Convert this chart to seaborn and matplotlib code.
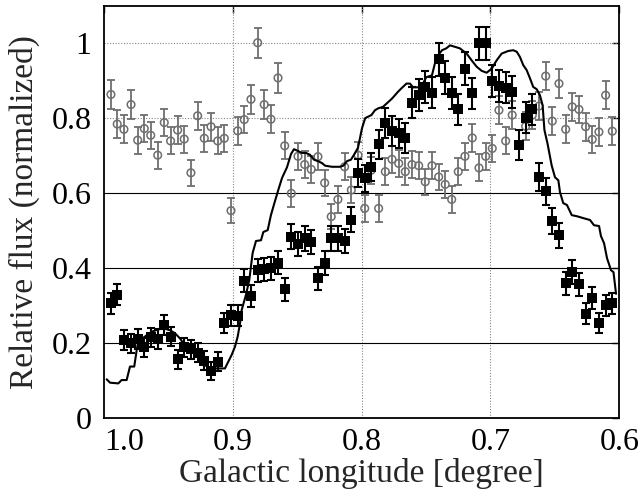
import matplotlib
matplotlib.use("Agg")
import matplotlib.pyplot as plt
import numpy as np
import pandas as pd
import seaborn as sns

# galactic longitude of each data bin (deg)
lon = [0.9946, 0.9897, 0.9845, 0.9790, 0.9738, 0.9687, 0.9637, 0.9583, 0.9532, 0.9483,
       0.9428, 0.9377, 0.9325, 0.9273, 0.9221, 0.9169, 0.9117, 0.9066, 0.9014, 0.8962,
       0.8911, 0.8859, 0.8807, 0.8756, 0.8704, 0.8649, 0.8597, 0.8546, 0.8494, 0.8442,
       0.8391, 0.8339, 0.8287, 0.8236, 0.8184, 0.8132, 0.8080, 0.8028, 0.7976, 0.7925,
       0.7868, 0.7816, 0.7764, 0.7712, 0.7661, 0.7609, 0.7557, 0.7506, 0.7454, 0.7402,
       0.7351, 0.7301, 0.7250, 0.7198, 0.7141, 0.7089, 0.7037, 0.6986, 0.6934, 0.6882,
       0.6831, 0.6779, 0.6727, 0.6675, 0.6623, 0.6571, 0.6520, 0.6468, 0.6416, 0.6365,
       0.6313, 0.6261, 0.6210, 0.6158, 0.6106, 0.6054]

# filled squares
sq_flux = [0.307, 0.329, 0.209, 0.200, 0.211, 0.189, 0.216, 0.211, 0.249, 0.218,
           0.157, 0.189, 0.184, 0.175, 0.154, 0.127, 0.151, 0.255, 0.275, 0.273,
           0.367, 0.326, 0.395, 0.397, 0.400, 0.415, 0.344, 0.485, 0.465, 0.480,
           0.470, 0.373, 0.413, 0.480, 0.480, 0.473, 0.530, 0.654, 0.640, 0.671,
           0.731, 0.788, 0.767, 0.760, 0.748, 0.842, 0.862, 0.884, 0.869, 0.958,
           0.909, 0.868, 0.824, 0.933, 0.867, 1.000, 1.000, 0.900, 0.886, 0.882,
           0.871, 0.729, 0.802, 0.824, 0.644, 0.606, 0.527, 0.488, 0.360, 0.390,
           0.357, 0.279, 0.320, 0.255, 0.302, 0.307]
sq_err = [0.028, 0.028, 0.026, 0.026, 0.026, 0.026, 0.026, 0.026, 0.027, 0.026,
          0.025, 0.026, 0.026, 0.025, 0.025, 0.024, 0.025, 0.027, 0.028, 0.028,
          0.030, 0.029, 0.031, 0.031, 0.031, 0.031, 0.030, 0.033, 0.032, 0.033,
          0.033, 0.031, 0.032, 0.033, 0.033, 0.033, 0.034, 0.037, 0.036, 0.037,
          0.039, 0.040, 0.040, 0.039, 0.039, 0.041, 0.042, 0.042, 0.042, 0.044,
          0.043, 0.042, 0.041, 0.043, 0.042, 0.045, 0.045, 0.043, 0.042, 0.042,
          0.042, 0.039, 0.041, 0.041, 0.037, 0.036, 0.034, 0.033, 0.030, 0.031,
          0.030, 0.028, 0.029, 0.027, 0.028, 0.028]

# open circles
ci_flux = [0.864, 0.785, 0.771, 0.837, 0.742, 0.773, 0.755, 0.702, 0.789, 0.740,
           0.769, 0.745, 0.655, 0.807, 0.747, 0.778, 0.740, 0.747, 0.554, 0.767,
           0.797, 0.851, 1.002, 0.837, 0.798, 0.908, 0.727, 0.600, 0.699, 0.677,
           0.664, 0.698, 0.628, 0.538, 0.584, 0.671, 0.609, 0.702, 0.560, 0.662,
           0.560, 0.658, 0.691, 0.680, 0.658, 0.677, 0.674, 0.631, 0.674, 0.644,
           0.624, 0.584, 0.658, 0.699, 0.748, 0.668, 0.699, 0.720, 0.822, 0.740,
           0.809, np.nan, 0.779, 0.809, 0.833, 0.913, 0.793, 0.893, 0.771, 0.831,
           0.824, 0.778, 0.744, 0.764, 0.862, 0.766]
ci_err = [0.038, 0.037, 0.037, 0.038, 0.036, 0.037, 0.036, 0.036, 0.037, 0.036,
          0.037, 0.036, 0.035, 0.037, 0.036, 0.037, 0.036, 0.036, 0.034, 0.037,
          0.037, 0.038, 0.040, 0.038, 0.037, 0.039, 0.036, 0.035, 0.036, 0.036,
          0.036, 0.036, 0.035, 0.034, 0.035, 0.036, 0.035, 0.036, 0.035, 0.036,
          0.035, 0.036, 0.036, 0.036, 0.036, 0.036, 0.036, 0.035, 0.036, 0.035,
          0.035, 0.035, 0.036, 0.036, 0.037, 0.036, 0.036, 0.036, 0.037, 0.036,
          0.037, np.nan, 0.037, 0.037, 0.037, 0.038, 0.037, 0.038, 0.037, 0.037,
          0.037, 0.037, 0.036, 0.037, 0.038, 0.037]

# solid profile
prof_lon = [0.9979, 0.9953, 0.9889, 0.9863, 0.9824, 0.9798, 0.9765, 0.9746, 0.9734, 0.9682,
            0.9630, 0.9578, 0.9540, 0.9488, 0.9449, 0.9410, 0.9384, 0.9346, 0.9294, 0.9255,
            0.9216, 0.9177, 0.9061, 0.9035, 0.9009, 0.8983, 0.8962, 0.8944, 0.8931, 0.8898,
            0.8872, 0.8846, 0.8820, 0.8781, 0.8763, 0.8729, 0.8704, 0.8678, 0.8647, 0.8618,
            0.8579, 0.8548, 0.8525, 0.8494, 0.8463, 0.8432, 0.8401, 0.8370, 0.8339, 0.8308,
            0.8284, 0.8230, 0.8168, 0.8142, 0.8114, 0.8083, 0.8059, 0.8028, 0.7997, 0.7972,
            0.7924, 0.7896, 0.7871, 0.7834, 0.7764, 0.7741, 0.7718, 0.7692, 0.7652, 0.7625,
            0.7601, 0.7555, 0.7524, 0.7498, 0.7454, 0.7431, 0.7405, 0.7376, 0.7343, 0.7314,
            0.7275, 0.7237, 0.7185, 0.7146, 0.7107, 0.7068, 0.7029, 0.6990, 0.6952, 0.6913,
            0.6862, 0.6823, 0.6796, 0.6771, 0.6745, 0.6719, 0.6693, 0.6668, 0.6641, 0.6616,
            0.6595, 0.6581, 0.6557, 0.6525, 0.6499, 0.6473, 0.6460, 0.6435, 0.6406, 0.6369,
            0.6328, 0.6279, 0.6227, 0.6196, 0.6157, 0.6142, 0.6118, 0.6095, 0.6064, 0.6045,
            0.6025]
prof_flux = [0.104, 0.095, 0.093, 0.102, 0.102, 0.138, 0.138, 0.182, 0.204, 0.218,
             0.231, 0.237, 0.240, 0.235, 0.227, 0.213, 0.200, 0.191, 0.173, 0.160,
             0.142, 0.133, 0.133, 0.151, 0.169, 0.191, 0.218, 0.253, 0.289, 0.329,
             0.369, 0.441, 0.473, 0.475, 0.497, 0.502, 0.542, 0.573, 0.609, 0.641,
             0.670, 0.705, 0.718, 0.713, 0.708, 0.708, 0.703, 0.690, 0.686, 0.681,
             0.674, 0.671, 0.671, 0.674, 0.686, 0.690, 0.703, 0.722, 0.774, 0.801,
             0.809, 0.822, 0.827, 0.831, 0.853, 0.862, 0.871, 0.880, 0.893, 0.893,
             0.883, 0.883, 0.893, 0.910, 0.915, 0.947, 0.969, 0.982, 0.987, 0.995,
             0.991, 0.987, 0.973, 0.955, 0.938, 0.927, 0.922, 0.933, 0.955, 0.973,
             0.980, 0.982, 0.978, 0.964, 0.942, 0.929, 0.907, 0.884, 0.878, 0.862,
             0.835, 0.769, 0.733, 0.675, 0.643, 0.635, 0.603, 0.574, 0.569, 0.542,
             0.539, 0.534, 0.529, 0.515, 0.513, 0.486, 0.467, 0.427, 0.395, 0.390,
             0.332]

x_ticks = [1.0, 0.9, 0.8, 0.7, 0.6]
x_ticklabels = ["1.0", "0.9", "0.8", "0.7", "0.6"]
y_ticks = [0, 0.2, 0.4, 0.6, 0.8, 1.0]
y_ticklabels = ["0", "0.2", "0.4", "0.6", "0.8", "1"]

sns.set_theme(style="white")
plt.rcParams["font.family"] = ["Liberation Serif", "DejaVu Serif"]

fig = plt.figure(figsize=(6.41, 4.96), dpi=100)
ax = fig.add_axes([0.1622, 0.1567, 0.8039, 0.8312])

# grid: dotted at top rows / verticals, solid at low rows
for xv in [0.9, 0.8, 0.7]:
    ax.axvline(xv, color="#888888", lw=0.8, ls=(0, (1, 1.5)), zorder=1)
for yv in [0.8, 1.0]:
    ax.axhline(yv, color="#888888", lw=0.8, ls=(0, (1, 1.5)), zorder=1)
for yv in [0.2, 0.4, 0.6]:
    ax.axhline(yv, color="black", lw=0.8, zorder=1)

ci = pd.DataFrame({"lon": lon, "flux": ci_flux, "err": ci_err})
sq = pd.DataFrame({"lon": lon, "flux": sq_flux, "err": sq_err})
prof = pd.DataFrame({"lon": prof_lon, "flux": prof_flux})

# open circles
ax.errorbar(ci["lon"], ci["flux"], yerr=ci["err"], fmt="none", ecolor="#6e6e6e",
            elinewidth=1.3, capsize=2.8, capthick=1.3, zorder=2)
sns.scatterplot(data=ci, x="lon", y="flux", ax=ax, marker="o", s=30,
                facecolor="none", edgecolor="#6e6e6e", linewidth=1.1, zorder=2.5)

# profile line
sns.lineplot(data=prof, x="lon", y="flux", ax=ax, sort=False, estimator=None,
             color="black", lw=1.5, zorder=3)

# filled squares
ax.errorbar(sq["lon"], sq["flux"], yerr=sq["err"], fmt="none", ecolor="black",
            elinewidth=1.5, capsize=2.8, capthick=1.5, zorder=4)
sns.scatterplot(data=sq, x="lon", y="flux", ax=ax, marker="s", s=50,
                color="black", edgecolor="black", linewidth=0, zorder=4.5)

ax.set_xlim(1.0, 0.6)
ax.set_ylim(0, 1.1)
ax.set_xticks(x_ticks)
ax.set_xticklabels(x_ticklabels)
ax.set_yticks(y_ticks)
ax.set_yticklabels(y_ticklabels)
ax.tick_params(axis="both", direction="in", length=5, width=1.0, labelsize=23,
               colors="black", top=True, right=True)
ax.tick_params(axis="x", pad=7)
ax.tick_params(axis="y", pad=9)
ax.get_xticklabels()[0].set_horizontalalignment("left")
ax.set_xlabel("Galactic longitude [degree]", fontsize=24, labelpad=1)
ax.set_ylabel("Relative flux (normalized)", fontsize=24, labelpad=8)

for sp in ax.spines.values():
    sp.set_color("black")
    sp.set_linewidth(1.3)

fig.savefig("out.png", dpi=100)
